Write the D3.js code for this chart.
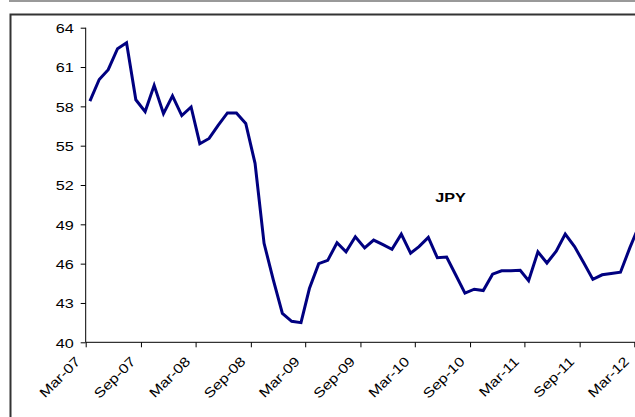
<!DOCTYPE html>
<meta charset="utf-8">
<style>
body { margin: 0; background: #fff; }
text { font-family: 'Liberation Sans', Arial, sans-serif; font-size: 13.5px; fill: #000; }
.axis path, .axis line { stroke: #000; stroke-width: 1px; }
</style>
<body>
<script src="https://d3js.org/d3.v7.min.js"></script>
<script>
// monthly values, starting Mar-07 (mid-month)
const startMonth = new Date(2007, 2, 15);
const jpy = [
  58.4, 60.05, 60.8, 62.4, 62.85, 58.5, 57.6, 59.6, 57.45, 58.8,
  57.3, 57.95, 55.15, 55.55, 56.55, 57.5, 57.5, 56.7, 53.65, 47.55,
  44.75, 42.2, 41.6, 41.5, 44.1, 46.0, 46.25, 47.6, 46.9, 48.05,
  47.2, 47.8, 47.45, 47.1, 48.25, 46.8, 47.3, 48.0, 46.45, 46.5,
  45.15, 43.75, 44.05, 43.95, 45.2, 45.45, 45.45, 45.5, 44.7, 46.9,
  46.05, 46.95, 48.25, 47.3, 46.05, 44.8, 45.15, 45.25, 45.35, 47.2,
  48.8
];
const yTicks = [40, 43, 46, 49, 52, 55, 58, 61, 64];
const xTickDates = d3.range(0, 61, 6).map(m => new Date(2007, 2 + m, 1));
const seriesName = "JPY";

const width = 635, height = 417;
const x0 = 85.7, x1 = 634.3, yTop = 27.7, yBot = 342.3;
const stretch = 1.2; // the original text is drawn a bit wide

const svg = d3.select("body").append("svg")
    .attr("width", width)
    .attr("height", height);

// outer lines of the sheet
svg.append("line")
    .attr("x1", 9).attr("x2", width).attr("y1", 1).attr("y2", 1)
    .attr("stroke", "#777").attr("stroke-width", 1.5);
svg.append("path")
    .attr("d", `M10.5,${height} V14.5 H${width}`)
    .attr("fill", "none").attr("stroke", "#333").attr("stroke-width", 2);

const x = d3.scaleTime()
    .domain([new Date(2007, 2, 1), new Date(2012, 2, 1)])
    .range([x0, x1]);
const y = d3.scaleLinear().domain([40, 64]).range([yBot, yTop]);

const data = jpy.map((v, i) => ({
  date: new Date(startMonth.getFullYear(), startMonth.getMonth() + i, 15),
  value: v
}));

// y axis
svg.append("g")
    .attr("class", "axis")
    .attr("transform", `translate(${x0},0)`)
    .call(d3.axisLeft(y).tickValues(yTicks).tickSize(5))
    .call(g => g.select(".domain").attr("d", `M0,${yTop}V${yBot}`))
    .selectAll("text")
      .attr("x", 0)
      .attr("dy", "0.36em")
      .attr("transform", `translate(-12,0) scale(${stretch},1)`)
      .style("font-size", "13.5px");

// x axis
const fmt = d3.timeFormat("%b-%y");
const xg = svg.append("g")
    .attr("class", "axis")
    .attr("transform", `translate(0,${yBot})`)
    .call(d3.axisBottom(x).tickValues(xTickDates).tickFormat(fmt).tickSize(5))
    .call(g => g.select(".domain").attr("d", `M${x0},0H${width + 5}`));
xg.selectAll("text")
    .attr("text-anchor", "end")
    .attr("dy", null)
    .attr("y", 0)
    .attr("transform", `translate(-5,20) rotate(-45) scale(${stretch},1)`)
    .style("font-size", "13.5px");

// series line
svg.append("path")
    .datum(data)
    .attr("fill", "none")
    .attr("stroke", "#000080")
    .attr("stroke-width", 3)
    .attr("stroke-linejoin", "miter")
    .attr("d", d3.line().x(d => x(d.date)).y(d => y(d.value)));

svg.append("text")
    .attr("text-anchor", "middle")
    .attr("transform", `translate(450.5,202) scale(${stretch},1)`)
    .style("font-weight", "bold")
    .text(seriesName);
</script>
</body>
